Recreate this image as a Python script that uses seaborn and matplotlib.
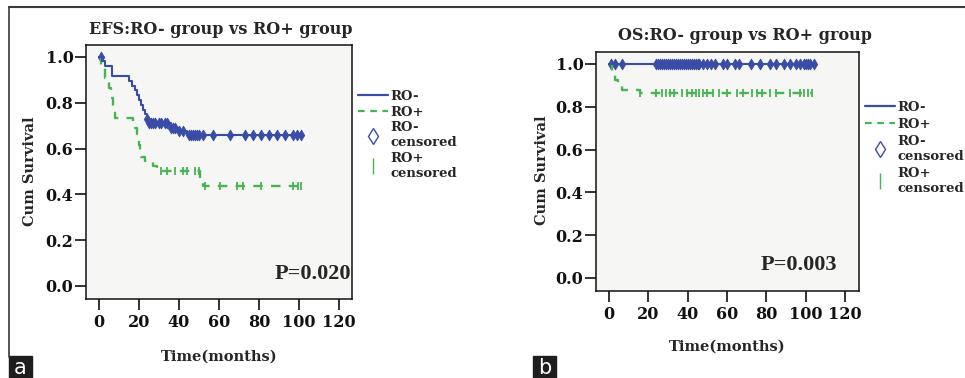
import numpy as np
import matplotlib
matplotlib.use("Agg")
import matplotlib.pyplot as plt
from matplotlib.lines import Line2D
from matplotlib.patches import Rectangle
import seaborn as sns

sns.set_style("ticks")
plt.rcParams["font.family"] = ["DejaVu Serif"]
plt.rcParams["font.weight"] = "bold"

# ---- data ----
# EFS, RO- group (step times / survival)
efs_neg_t = [0, 1.5, 3, 6.5, 15, 16.5, 18, 19, 20, 21, 22, 23, 24, 25, 36, 40, 44, 102]
efs_neg_s = [1.0, 0.98, 0.96, 0.915, 0.895, 0.875, 0.855, 0.835, 0.81, 0.79, 0.77,
             0.75, 0.73, 0.71, 0.69, 0.675, 0.66, 0.66]
efs_neg_cens = [1, 24, 25, 26, 27, 28, 30, 31, 33, 34, 36, 37, 38, 40, 42, 45, 46, 47,
                48, 49, 50, 52, 57, 65.5, 73, 77, 81, 85, 89, 93, 97, 99, 101]

# EFS, RO+ group
efs_pos_t = [0, 1, 3, 5, 6, 7, 8, 17, 18, 19, 19.5, 20, 20.5, 21, 23, 27, 29, 50.5, 52, 101]
efs_pos_s = [1.0, 0.955, 0.91, 0.865, 0.82, 0.775, 0.735, 0.71, 0.69, 0.665, 0.64,
             0.615, 0.59, 0.565, 0.545, 0.525, 0.50, 0.455, 0.435, 0.435]
efs_pos_cens = [31, 34, 38, 42, 44, 48, 50, 53, 60.5, 69, 72, 81, 97, 99.5, 101]

# OS, RO- group
os_neg_t = [0, 104]
os_neg_s = [1.0, 1.0]
os_neg_cens = [1, 3, 6.5, 24, 25, 26, 27, 28, 29, 30, 31, 32, 33, 34, 35, 36, 37, 38, 39,
               40, 41, 42, 43, 44, 45, 46, 48, 50, 52, 54, 58, 60, 64, 66, 72, 77, 82,
               85, 89, 92, 95, 97, 99, 100, 101, 102, 104]

# OS, RO+ group
os_pos_t = [0, 1.5, 3, 4.5, 6.5, 16, 103]
os_pos_s = [1.0, 0.95, 0.925, 0.90, 0.878, 0.863, 0.863]
os_pos_cens = [16, 24, 27, 29, 31, 33, 37, 39.5, 42, 44, 46, 48, 50, 53, 56, 60, 65, 68,
               72.5, 75, 78, 82, 85, 92, 97, 99, 101, 103]

x_ticks = [0, 20, 40, 60, 80, 100, 120]
y_ticks = [0.0, 0.2, 0.4, 0.6, 0.8, 1.0]

BLUE = "#3a4da6"
GREEN = "#45b552"
W, H = 965, 378


def level_at(times, st, ss):
    idx = np.searchsorted(st, times, side="right") - 1
    return np.asarray(ss)[idx]


def draw_panel(ax, neg_t, neg_s, neg_c, pos_t, pos_s, pos_c, xlim, ylim):
    ax.set_facecolor("#f6f6f4")
    sns.lineplot(x=pos_t, y=pos_s, drawstyle="steps-post", estimator=None, sort=False,
                 color=GREEN, linewidth=1.7, linestyle=(0, (4, 3.5)), ax=ax)
    sns.scatterplot(x=pos_c, y=level_at(pos_c, pos_t, pos_s), marker="|", s=40,
                    color=GREEN, linewidth=1.3, ax=ax)
    sns.lineplot(x=neg_t, y=neg_s, drawstyle="steps-post", estimator=None, sort=False,
                 color=BLUE, linewidth=1.5, ax=ax)
    sns.scatterplot(x=neg_c, y=level_at(neg_c, neg_t, neg_s), marker="d", s=30,
                    color=BLUE, edgecolor=BLUE, linewidth=0.6, ax=ax)
    ax.set_xlim(*xlim)
    ax.set_ylim(*ylim)
    ax.set_xticks(x_ticks)
    ax.set_yticks(y_ticks)
    ax.set_yticklabels([f"{v:.1f}" for v in y_ticks])
    ax.tick_params(axis="both", length=8, width=1.2, labelsize=11.5, colors="#111111")
    ax.tick_params(axis="y", pad=1)
    ax.tick_params(axis="x", pad=3)
    for sp in ax.spines.values():
        sp.set_visible(True)
        sp.set_linewidth(1.1)
        sp.set_color("#111111")
    ax.set_xlabel("")
    ax.set_ylabel("")


def add_legend(ax, left_px, top_px, spacing):
    handles = [
        Line2D([], [], color=BLUE, lw=1.6),
        Line2D([], [], color=GREEN, lw=1.6, ls=(0, (3, 2.5))),
        Line2D([], [], ls="none", marker="d", ms=8, mfc="none", mec=BLUE, mew=1.0),
        Line2D([], [], ls="none", marker="|", ms=12, color=GREEN, mew=1.0),
    ]
    labels = ["RO-", "RO+", "RO-\ncensored", "RO+\ncensored"]
    ax.legend(handles, labels, loc="upper left",
              bbox_to_anchor=(left_px / W, 1 - top_px / H),
              bbox_transform=fig.transFigure, frameon=False, fontsize=9.5,
              handlelength=2.3, handletextpad=0.15, labelspacing=spacing,
              borderpad=0, borderaxespad=0)


fig = plt.figure(figsize=(W / 100, H / 100), dpi=100)

ax1 = fig.add_axes([86 / W, 1 - 299 / H, 266 / W, 254 / H])
draw_panel(ax1, efs_neg_t, efs_neg_s, efs_neg_cens, efs_pos_t, efs_pos_s, efs_pos_cens,
           (-6.5, 126.5), (-0.057, 1.052))
ax1.text(126, 0.05, "P=0.020", ha="right", va="center", fontsize=16,
         family="Liberation Serif")
add_legend(ax1, 358, 90, 0.2)

ax2 = fig.add_axes([596 / W, 1 - 291 / H, 263 / W, 239 / H])
draw_panel(ax2, os_neg_t, os_neg_s, os_neg_cens, os_pos_t, os_pos_s, os_pos_cens,
           (-6.6, 127.1), (-0.061, 1.056))
ax2.text(116, 0.062, "P=0.003", ha="right", va="center", fontsize=16,
         family="Liberation Serif")
add_legend(ax2, 865, 101, 0.3)

# titles and axis labels
fig.text(221 / W, 1 - 30 / H, "EFS:RO- group vs RO+ group", ha="center", va="center", fontsize=11.5)
fig.text(745 / W, 1 - 35 / H, "OS:RO- group vs RO+ group", ha="center", va="center", fontsize=11.5)
fig.text(30 / W, 1 - 171 / H, "Cum Survival", rotation=90, ha="center", va="center", fontsize=10.5)
fig.text(542 / W, 1 - 170 / H, "Cum Survival", rotation=90, ha="center", va="center", fontsize=10.5)
fig.text(219 / W, 1 - 357 / H, "Time(months)", ha="center", va="center", fontsize=10.5)
fig.text(727 / W, 1 - 347 / H, "Time(months)", ha="center", va="center", fontsize=10.5)

# outer frame lines
fig.add_artist(Line2D([9 / W, 1], [1 - 7 / H] * 2, color="#3a3a3a", lw=1.5,
                      transform=fig.transFigure))
fig.add_artist(Line2D([9 / W] * 2, [1 - 7 / H, 21 / H], color="#3a3a3a", lw=1.2,
                      transform=fig.transFigure))

# panel letters
for x0, letter in [(9, "a"), (533, "b")]:
    fig.add_artist(Rectangle((x0 / W, 0), 23 / W, 22 / H, color="#1e1e1e",
                             transform=fig.transFigure))
    fig.text((x0 + 11.5) / W, 10 / H, letter, color="white", ha="center", va="center",
             fontsize=15, fontweight="normal", family="DejaVu Sans")

fig.savefig("out.png", dpi=100)
